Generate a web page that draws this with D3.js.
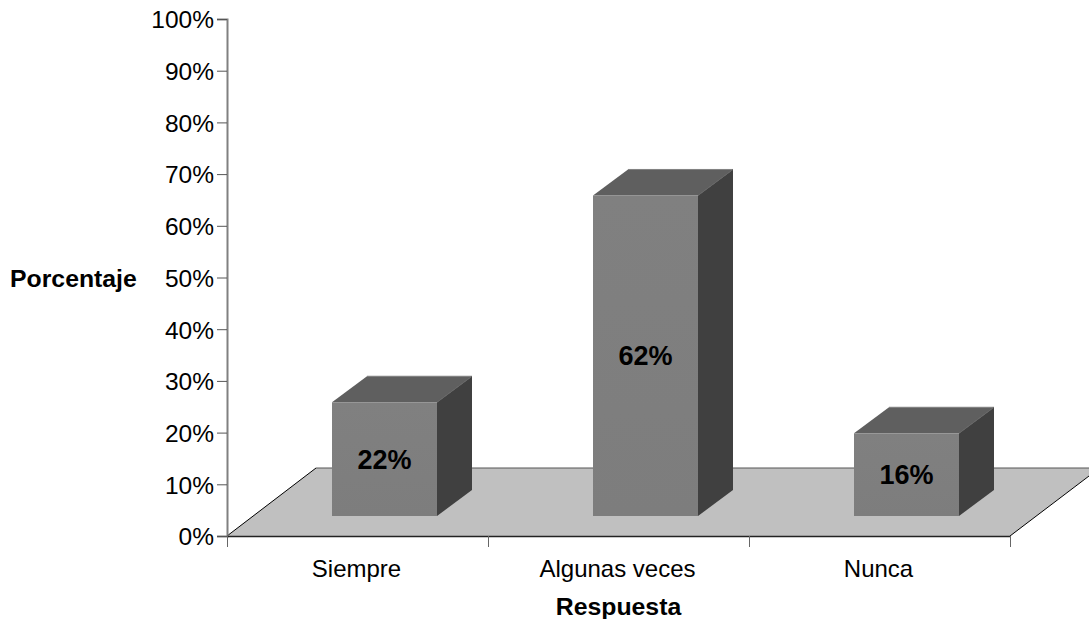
<!DOCTYPE html>
<html><head><meta charset="utf-8">
<script src="https://cdn.jsdelivr.net/npm/d3@7"></script>
<style>html,body{margin:0;padding:0;background:#fff}svg{display:block}text{font-family:"Liberation Sans",Arial,sans-serif;fill:#000}</style>
</head><body><svg id="c" width="1089" height="619"></svg>
<script>
const categories=["Siempre","Algunas veces","Nunca"];
const values=[22,62,16];
const yTicks=[0,10,20,30,40,50,60,70,80,90,100];
const xTitle="Respuesta", yTitle="Porcentaje";

const svg=d3.select("#c");
const x=d3.scaleBand().domain(categories).range([227,1010]);
const y=d3.scaleLinear().domain([0,100]).range([536,19]);
const barOff={dx:27,dy:-20}, barD={dx:35,dy:-26}, barW=105;
const line=d3.line();

// floor
svg.append("path").attr("d",line([[227,536],[316,468],[1099,468],[1010,536]])+"Z")
  .attr("fill","#c0c0c0");
svg.append("path").attr("d",line([[227,536],[316,468]])).attr("stroke","#000").attr("fill","none");
svg.append("path").attr("d",line([[316,468],[1089,468]])).attr("stroke","#555").attr("fill","none");
svg.append("path").attr("d",line([[1010,536],[1089,476]])).attr("stroke","#000").attr("fill","none");

// bars
const defs=svg.append("defs");
const g=defs.append("linearGradient").attr("id","f").attr("x1",0).attr("x2",0).attr("y1",0).attr("y2",1);
g.append("stop").attr("offset",0).attr("stop-color","#808080");
g.append("stop").attr("offset",1).attr("stop-color","#7d7d7d");
categories.forEach((c,i)=>{
  const l=x(c)+x.bandwidth()/2-barW/2+barOff.dx, r=l+barW;
  const b=y(0)+barOff.dy, t=b-(y(0)-y(values[i]));
  const dx=barD.dx, dy=barD.dy;
  svg.append("path").attr("d",line([[l,t],[l+dx,t+dy],[r+dx,t+dy],[r,t]])+"Z").attr("fill","#5f5f5f");
  svg.append("path").attr("d",line([[r,t],[r+dx,t+dy],[r+dx,b+dy],[r,b]])+"Z").attr("fill","#404040");
  svg.append("rect").attr("x",l).attr("y",t).attr("width",barW).attr("height",b-t).attr("fill","url(#f)");
  svg.append("path").attr("d",line([[l+dx,t+dy],[r+dx,t+dy]])).attr("stroke","#808080").attr("fill","none");
  svg.append("path").attr("d",line([[r,t],[r+dx,t+dy]])).attr("stroke","#666").attr("fill","none");
  svg.append("text").attr("x",(l+r)/2).attr("y",(t+b)/2).attr("dy","0.355em").attr("text-anchor","middle")
    .attr("font-size",27).attr("font-weight","bold").text(values[i]+"%");
});

// y axis
const ya=svg.append("g").attr("transform","translate(227,0)").call(d3.axisLeft(y).tickValues(yTicks).tickFormat(d=>d+"%").tickSize(10).tickPadding(3));
ya.select(".domain").attr("stroke","#808080").attr("stroke-width",2);
ya.selectAll(".tick line").attr("stroke","#555");
ya.selectAll("text").attr("font-size",24.5).attr("fill","#000").attr("dy","0.36em");

// x axis
const edges=d3.range(categories.length+1).map(i=>x.range()[0]+i*x.bandwidth());
svg.append("path").attr("d",line([[227,536.5],[1010,536.5]])).attr("stroke","#222").attr("stroke-width",1.3);
svg.selectAll(".xt").data(edges).join("line").attr("x1",d=>d+.5).attr("x2",d=>d+.5).attr("y1",536).attr("y2",547).attr("stroke","#666");
svg.selectAll(".xl").data(categories).join("text").attr("x",d=>x(d)+x.bandwidth()/2-1).attr("y",568).attr("dy","0.355em")
  .attr("text-anchor","middle").attr("font-size",24).text(d=>d);

svg.append("text").attr("x",618.5).attr("y",606).attr("dy","0.355em").attr("text-anchor","middle").attr("font-size",24.8).attr("font-weight","bold").text(xTitle);
svg.append("text").attr("x",10).attr("y",278).attr("dy","0.355em").attr("font-size",24.8).attr("font-weight","bold").text(yTitle);
</script></body></html>
